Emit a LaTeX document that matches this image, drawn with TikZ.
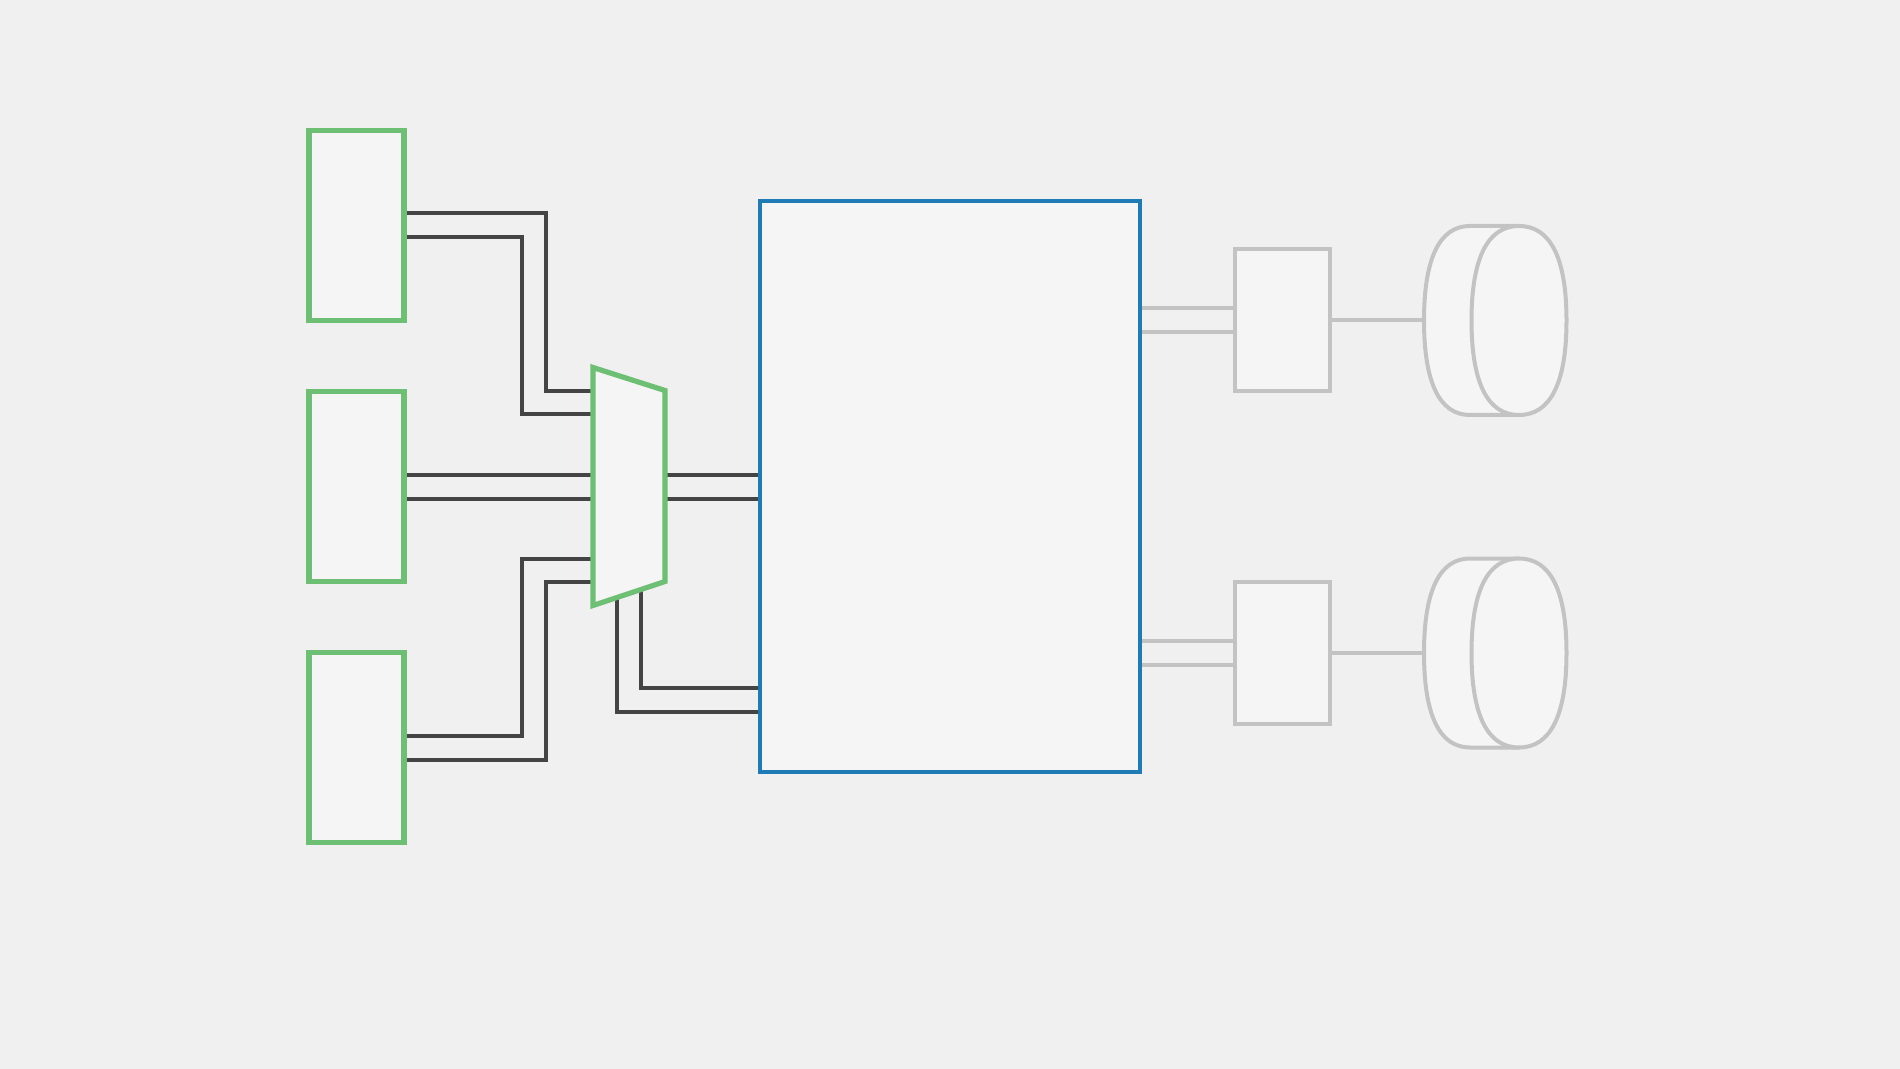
\documentclass[tikz,border=0pt]{standalone}
\usepackage{xcolor}
\usepackage{tikz}
\usetikzlibrary{calc,positioning,shapes.geometric,backgrounds}
\definecolor{pagebg}{HTML}{F0F0F0}
\definecolor{boxbg}{HTML}{F5F5F5}
\definecolor{grnc}{HTML}{6DBF73}
\definecolor{bluc}{HTML}{1F7BB6}
\definecolor{wirec}{HTML}{444444}
\definecolor{litec}{HTML}{C3C3C3}
\tikzset{
  wire/.style={wirec,line width=2pt},
  lite/.style={litec,line width=2pt},
  hold/.style={rectangle,draw=none,inner sep=0pt,outer sep=0pt},
  src/.style={hold,draw=grnc,line width=2.6pt,fill=boxbg,minimum width=47.5pt,minimum height=95pt},
  muxs/.style={draw=grnc,line width=2.6pt,fill=boxbg},
  core/.style={hold,draw=bluc,line width=2pt,fill=boxbg,minimum width=189.75pt,minimum height=285pt},
  mem/.style={hold,draw=litec,line width=2pt,fill=boxbg,minimum width=47.5pt,minimum height=71pt},
  disk/.style={draw=litec,line width=2pt,line join=round,fill=boxbg},
  drum/.pic={
    \begin{scope}[x=1pt,y=1pt]
    \filldraw[disk] (-12.7,47.25) .. controls (-27.9,47.25) and (-35.7,31.2) .. (-35.7,0)
      .. controls (-35.7,-31.2) and (-27.9,-47.25) .. (-12.7,-47.25) -- (11.8,-47.25) -- (11.8,47.25) -- cycle;
    \filldraw[disk] (11.8,47.25) .. controls (27.5,47.25) and (35.55,31.2) .. (35.55,0)
      .. controls (35.55,-31.2) and (27.5,-47.25) .. (11.8,-47.25)
      .. controls (-3.9,-47.25) and (-11.95,-31.2) .. (-11.95,0)
      .. controls (-11.95,31.2) and (-3.9,47.25) .. cycle;
    \end{scope}
  }
}
\begin{document}
\begin{tikzpicture}[x=0.5pt,y=-0.5pt]
\useasboundingbox (0,0) rectangle (1900,1069);
% input blocks
\foreach \i/\yy in {1/225.5,2/486.5,3/747.5}{\node[src] (src\i) at (356.5,\yy) {};}
% selector
\node[hold,minimum width=36pt,minimum height=119pt] (mux) at (629,486.5) {};
\filldraw[muxs] (mux.north west) -- ([yshift=-11.5pt]mux.north east) -- ([yshift=12pt]mux.south east) -- (mux.south west) -- cycle;
% main block
\node[core] (core) at (949.75,486.5) {};
% storage side
\foreach \i/\yy in {1/320.5,2/653}{
  \node[mem] (mem\i) at (1282.5,\yy) {};
  \node[hold,minimum width=71.4pt,minimum height=94.5pt] (dsk\i) at (1495.4,\yy) {};
  \pic at (dsk\i.center) {drum};
}
\begin{scope}[on background layer]
\fill[pagebg] (0,0) rectangle (1900,1069);
\draw[wire] ([yshift=6pt]src1.east) -- ++(71pt,0) |- ([yshift=47.5pt]mux.west);
\draw[wire] ([yshift=-6pt]src1.east) -- ++(59pt,0) |- ([yshift=36pt]mux.west);
\draw[wire] ([yshift=6pt]src2.east) -- ([yshift=6pt]mux.west);
\draw[wire] ([yshift=-6pt]src2.east) -- ([yshift=-6pt]mux.west);
\draw[wire] ([yshift=6pt]src3.east) -- ++(59pt,0) |- ([yshift=-36pt]mux.west);
\draw[wire] ([yshift=-6pt]src3.east) -- ++(71pt,0) |- ([yshift=-47.5pt]mux.west);
\draw[wire] ([yshift=6pt]mux.east) -- ([yshift=6pt]core.west);
\draw[wire] ([yshift=-6pt]mux.east) -- ([yshift=-6pt]core.west);
\draw[wire] ([xshift=-6pt,yshift=4pt]mux.south) |- ([yshift=-112.6pt]core.west);
\draw[wire] ([xshift=6pt,yshift=8pt]mux.south) |- ([yshift=-100.9pt]core.west);
\foreach \i in {1,2}{
  \draw[lite] ($(mem\i.west)+(0,6pt)$) -- ($(mem\i.west -| core.east)+(0,6pt)$);
  \draw[lite] ($(mem\i.west)+(0,-6pt)$) -- ($(mem\i.west -| core.east)+(0,-6pt)$);
  \draw[lite] (mem\i.east) -- (dsk\i.west);
}
\end{scope}
\end{tikzpicture}
\end{document}
